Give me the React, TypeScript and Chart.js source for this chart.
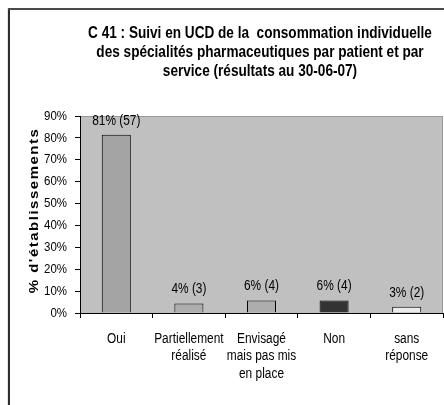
import React, { useEffect, useRef } from "react";
import { Chart, registerables } from "chart.js";

Chart.register(...registerables);

const titleLines = [
  "C 41 : Suivi en UCD de la  consommation individuelle",
  "des spécialités pharmaceutiques par patient et par",
  "service (résultats au 30-06-07)",
];
const yAxisTitle = "% d'établissements";
const categories = [
  ["Oui"],
  ["Partiellement", "réalisé"],
  ["Envisagé", "mais pas mis", "en place"],
  ["Non"],
  ["sans", "réponse"],
];
const values = [81.4, 4.3, 5.7, 5.7, 2.9];
const pctLabels = ["81%", "4%", "6%", "6%", "3%"];
const counts = [57, 3, 4, 4, 2];
const barColors = ["#A4A4A4", "#ADADAD", "#ADADAD", "#333333", "#EBEBEB"];
const yMin = 0;
const yMax = 90;
const yStep = 10;

const FONT = "'Liberation Sans', Arial, sans-serif";
const SX = 0.85;

function scaledText(ctx: any, text: string, x: number, y: number, sx: number) {
  ctx.save();
  ctx.translate(x, y);
  ctx.scale(sx, 1);
  ctx.fillText(text, 0, 0);
  ctx.restore();
}

const decorPlugin = {
  id: "decor",
  beforeDraw(chart: any) {
    const { ctx, chartArea: a } = chart;
    ctx.save();
    ctx.fillStyle = "#ffffff";
    ctx.fillRect(0, 0, chart.width, chart.height);
    // outer frame
    ctx.fillStyle = "#e6e6e6";
    ctx.fillRect(7, 8, 1, chart.height);
    ctx.fillStyle = "#2e2e2e";
    ctx.fillRect(8, 8, 2, chart.height);
    ctx.fillStyle = "#4a4a4a";
    ctx.fillRect(8, 8, chart.width, 2);
    // plot area
    ctx.fillStyle = "#C0C0C0";
    ctx.fillRect(a.left, a.top, a.right - a.left, a.bottom - a.top);
    ctx.strokeStyle = "#999999";
    ctx.lineWidth = 1;
    ctx.strokeRect(a.left + 0.5, a.top + 0.5, a.right - a.left - 1, a.bottom - a.top);
    ctx.restore();
  },
  afterDraw(chart: any) {
    const { ctx, chartArea: a } = chart;
    const xs = chart.scales.x;
    const ys = chart.scales.y;
    ctx.save();
    ctx.fillStyle = "#000000";
    ctx.textBaseline = "middle";

    // title
    ctx.textAlign = "center";
    ctx.font = `bold 16px ${FONT}`;
    titleLines.forEach((t, i) => scaledText(ctx, t, 260, 34 + i * 19, SX));

    // x tick labels (from the category scale)
    ctx.font = `14px ${FONT}`;
    xs.ticks.forEach((_t: any, i: number) => {
      const x = xs.getPixelForTick(i);
      const lines = chart.data.labels[i] as string[];
      lines.forEach((ln, j) => scaledText(ctx, ln, x, a.bottom + 26 + j * 17.5, SX));
    });

    // y tick labels (from the linear scale)
    ctx.textAlign = "right";
    ctx.font = `13.5px ${FONT}`;
    ys.ticks.forEach((t: any, i: number) => {
      const y = ys.getPixelForTick(i);
      scaledText(ctx, `${t.value}%`, 67, y, SX);
    });

    // y axis title
    ctx.save();
    ctx.textAlign = "center";
    ctx.translate(34, (a.top + a.bottom) / 2 - 4);
    ctx.rotate(-Math.PI / 2);
    ctx.scale(1, SX);
    ctx.font = `bold 15px ${FONT}`;
    (ctx as any).letterSpacing = "1.5px";
    ctx.fillText(yAxisTitle, 0, 0);
    ctx.restore();

    ctx.restore();
  },
  afterDatasetsDraw(chart: any) {
    const { ctx } = chart;
    const meta = chart.getDatasetMeta(0);
    ctx.save();
    ctx.fillStyle = "#000000";
    ctx.font = `14px ${FONT}`;
    ctx.textAlign = "center";
    ctx.textBaseline = "bottom";
    meta.data.forEach((el: any, i: number) => {
      scaledText(ctx, `${pctLabels[i]} (${counts[i]})`, el.x, el.y - 7, SX);
    });
    ctx.restore();
  },
};

export default function App() {
  const ref = useRef<HTMLCanvasElement>(null);
  useEffect(() => {
    if (!ref.current) return;
    const chart = new Chart(ref.current, {
      type: "bar",
      data: {
        labels: categories as any,
        datasets: [
          {
            data: values,
            backgroundColor: barColors,
            borderColor: "#000000",
            borderWidth: 1,
            barPercentage: 0.4,
            categoryPercentage: 1,
          },
        ],
      },
      options: {
        animation: false,
        responsive: false,
        layout: { padding: { left: 0, right: 1, top: 116, bottom: 0 } },
        plugins: { legend: { display: false }, tooltip: { enabled: false } },
        scales: {
          x: {
            grid: { offset: true, drawOnChartArea: false, tickLength: 5, color: "#000000" },
            border: { color: "#000000" },
            ticks: { display: false, autoSkip: false, maxRotation: 0 },
            afterFit: (s: any) => {
              s.height = 92;
            },
          },
          y: {
            min: yMin,
            max: yMax,
            grid: { drawOnChartArea: false, tickLength: 5, color: "#000000" },
            border: { color: "#000000" },
            ticks: { display: false, stepSize: yStep },
            afterFit: (s: any) => {
              s.width = 80;
            },
          },
        },
      },
      plugins: [decorPlugin],
    });
    return () => chart.destroy();
  }, []);
  return (
    <div style={{ position: "absolute", left: 0, top: 0, width: 444, height: 405 }}>
      <canvas ref={ref} width={444} height={405} style={{ display: "block" }} />
    </div>
  );
}
